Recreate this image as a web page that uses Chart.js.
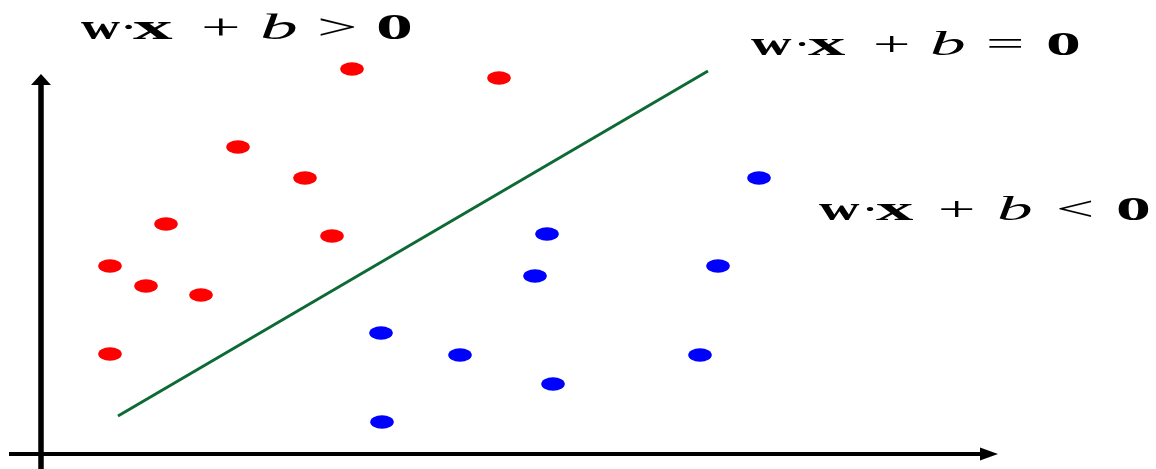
<!DOCTYPE html>
<html>
<head>
<meta charset="utf-8">
<script src="https://cdn.jsdelivr.net/npm/chart.js@4"></script>
<style>
  html, body { margin: 0; padding: 0; background: #ffffff; }
  #c { display: block; }
</style>
</head>
<body>
<canvas id="c" width="1156" height="469"></canvas>
<script>
// ---- data (x, y in axis units; origin at the axes' crossing) ----
const redX  = [31.1, 45.8, 19.7, 26.4, 12.5, 29.1, 6.9, 10.5, 16.0, 6.9];
const redY  = [38.5, 37.6, 30.7, 27.6, 23.0, 21.8, 18.8, 16.8, 15.9, 10.0];
const blueX = [71.8, 50.6, 67.7, 49.4, 34.0, 41.9, 65.9, 51.2, 34.1];
const blueY = [27.6, 22.0, 18.8, 17.8, 12.1, 9.9, 9.9, 7.0, 3.2];
const lineX = [7.7, 66.7];
const lineY = [3.8, 38.3];
const labelAbove = ['w', '·', 'x', '+', 'b', '>', '0'];
const labelOn    = ['w', '·', 'x', '+', 'b', '=', '0'];
const labelBelow = ['w', '·', 'x', '+', 'b', '<', '0'];

const zip = (xs, ys) => xs.map((x, i) => ({ x: x, y: ys[i] }));

function blob(color) {
  const c = document.createElement('canvas');
  c.width = 24; c.height = 14;
  const g = c.getContext('2d');
  g.fillStyle = color;
  g.beginPath();
  g.ellipse(12, 7, 11.8, 6.8, 0, 0, Math.PI * 2);
  g.fill();
  return c;
}

const fontFamily = '"Liberation Serif", "DejaVu Serif", serif';
const labelLayouts = [
  { tokens: labelAbove, xs: [81, 119, 133, 201, 260, 317, 376], base: 39, size: 36, wStretch: 1.5 },
  { tokens: labelOn,    xs: [751, 793, 808, 873, 930, 986, 1046], base: 55, size: 34, wStretch: 1.65 },
  { tokens: labelBelow, xs: [819, 861, 876, 938, 997, 1056, 1116], base: 220, size: 34, wStretch: 1.65 }
];
const tokenStyles = ['bold', 'normal', 'bold', 'normal', 'italic', 'normal', 'bold'];
const tokenStretch = [1.5, 1.6, 2.2, 1.95, 2.1, 2.0, 2.05];

const decor = {
  id: 'decor',
  beforeDatasetsDraw(chart) {
    const ctx = chart.ctx;
    const xs = chart.scales.x, ys = chart.scales.y;
    const ox = xs.getPixelForValue(0), oy = ys.getPixelForValue(0);
    ctx.save();
    ctx.fillStyle = '#000';
    ctx.strokeStyle = '#000';
    // y axis
    const yTip = ys.getPixelForValue(38.0);
    ctx.lineWidth = 5.5;
    ctx.beginPath();
    ctx.moveTo(ox, chart.height);
    ctx.lineTo(ox, yTip + 8);
    ctx.stroke();
    ctx.beginPath();
    ctx.moveTo(ox, yTip);
    ctx.lineTo(ox - 10, yTip + 11);
    ctx.lineTo(ox + 10, yTip + 11);
    ctx.closePath();
    ctx.fill();
    // x axis
    const xTip = xs.getPixelForValue(95.7);
    const xLeft = xs.getPixelForValue(-3.2);
    ctx.lineWidth = 4;
    ctx.beginPath();
    ctx.moveTo(xLeft, oy);
    ctx.lineTo(xTip - 14, oy);
    ctx.stroke();
    ctx.beginPath();
    ctx.moveTo(xTip, oy);
    ctx.lineTo(xTip - 18, oy - 6.5);
    ctx.lineTo(xTip - 18, oy + 6.5);
    ctx.closePath();
    ctx.fill();
    ctx.restore();
  },
  afterDraw(chart) {
    const ctx = chart.ctx;
    ctx.save();
    ctx.fillStyle = '#000';
    ctx.textBaseline = 'alphabetic';
    ctx.textAlign = 'left';
    labelLayouts.forEach(L => {
      L.tokens.forEach((t, i) => {
        const st = tokenStyles[i];
        const font = (st === 'bold' ? 'bold ' : st === 'italic' ? 'italic ' : '') + L.size + 'px ' + fontFamily;
        ctx.save();
        ctx.font = font;
        ctx.translate(L.xs[i], L.base);
        ctx.scale(i === 0 ? L.wStretch : tokenStretch[i], 1);
        ctx.fillText(t, 0, 0);
        ctx.restore();
      });
    });
    ctx.restore();
  }
};

new Chart(document.getElementById('c'), {
  type: 'scatter',
  data: {
    datasets: [
      {
        label: 'boundary',
        data: zip(lineX, lineY),
        showLine: true,
        borderColor: '#0e6a35',
        borderWidth: 3,
        pointRadius: 0,
        fill: false
      },
      {
        label: 'positive',
        data: zip(redX, redY),
        pointStyle: blob('#ff0000'),
        pointRadius: 7,
        backgroundColor: '#ff0000',
        borderColor: '#ff0000'
      },
      {
        label: 'negative',
        data: zip(blueX, blueY),
        pointStyle: blob('#0000ff'),
        pointRadius: 7,
        backgroundColor: '#0000ff',
        borderColor: '#0000ff'
      }
    ]
  },
  options: {
    responsive: false,
    animation: false,
    layout: { padding: 0, autoPadding: false },
    plugins: { legend: { display: false }, tooltip: { enabled: false }, title: { display: false } },
    scales: {
      x: { type: 'linear', min: -4.1, max: 111.5, display: false },
      y: { type: 'linear', min: -1.5, max: 45.4, display: false }
    }
  },
  plugins: [decor]
});
</script>
</body>
</html>
